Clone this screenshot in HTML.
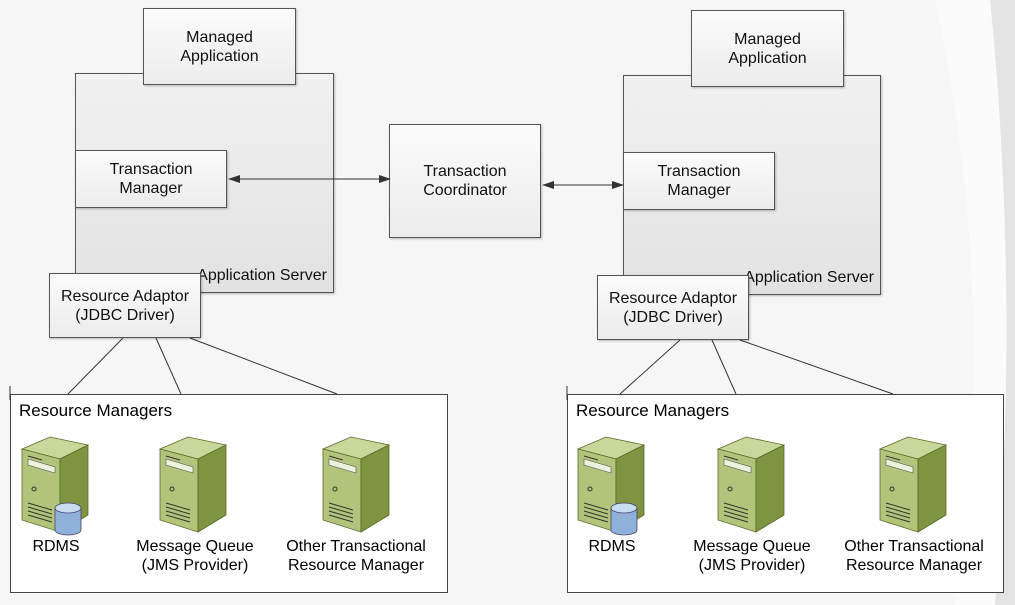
<!DOCTYPE html>
<html><head><style>
body{margin:0;width:1015px;height:605px;overflow:hidden;background:#f6f6f6;font-family:"Liberation Sans",sans-serif;}
.b{position:absolute;border:1px solid #555;box-sizing:border-box;display:flex;align-items:center;justify-content:center;text-align:center;font-size:16px;line-height:19px;color:#111;background:linear-gradient(#fbfbfb,#ececec);box-shadow:1px 1px 2px rgba(0,0,0,.25);}
.as{position:absolute;border:1px solid #555;box-sizing:border-box;background:linear-gradient(#f1f1f1,#e2e2e2);box-shadow:1px 1px 2px rgba(0,0,0,.25);}
.as span{position:absolute;right:6px;bottom:7px;font-size:16px;color:#111;}
.rm{position:absolute;border:1px solid #444;box-sizing:border-box;background:#fff;}
.rm .t{position:absolute;left:8px;top:6px;font-size:17px;}
.lbl{position:absolute;text-align:center;font-size:16px;line-height:19px;width:180px;}
</style></head><body>
<svg width="1015" height="605" style="position:absolute;left:0;top:0">
<path d="M990 0 Q1020 300 995 605 L1015 605 L1015 0Z" fill="#e4e4e4"/>
<path d="M935 0 Q1000 300 955 605 L995 605 Q1020 300 990 0Z" fill="#fbfbfb"/>
</svg>
<div class="as" style="left:75px;top:73px;width:259px;height:220px"><span>Application Server</span></div>
<div class="as" style="left:623px;top:75px;width:258px;height:220px"><span>Application Server</span></div>
<div class="b" style="left:143px;top:8px;width:153px;height:77px">Managed<br>Application</div>
<div class="b" style="left:691px;top:10px;width:153px;height:77px">Managed<br>Application</div>
<div class="b" style="left:75px;top:150px;width:152px;height:58px">Transaction<br>Manager</div>
<div class="b" style="left:623px;top:152px;width:152px;height:58px">Transaction<br>Manager</div>
<div class="b" style="left:389px;top:124px;width:152px;height:114px">Transaction<br>Coordinator</div>
<div class="b" style="left:49px;top:273px;width:152px;height:65px">Resource Adaptor<br>(JDBC Driver)</div>
<div class="b" style="left:597px;top:275px;width:152px;height:65px">Resource Adaptor<br>(JDBC Driver)</div>
<div class="rm" style="left:10px;top:394px;width:438px;height:199px"><div class="t">Resource Managers</div></div>
<div class="rm" style="left:567px;top:394px;width:437px;height:199px"><div class="t">Resource Managers</div></div>
<svg width="1015" height="605" style="position:absolute;left:0;top:0">
<defs>
<g id="srv">
<polygon points="0,12 28,0 66,8 38,22" fill="#c8d79a" stroke="#5a6a2a" stroke-width="0.8"/>
<polygon points="0,12 38,22 38,95 0,83" fill="#b2c47a" stroke="#5a6a2a" stroke-width="0.8"/>
<polygon points="38,22 66,8 66,78 38,95" fill="#7d9440" stroke="#5a6a2a" stroke-width="0.8"/>
<polygon points="6,22 33,30 33,36 6,28" fill="#eef2dc" stroke="#556" stroke-width="0.6"/>
<line x1="6" y1="19" x2="20" y2="23" stroke="#333"/>
<circle cx="12" cy="52" r="2" fill="none" stroke="#333"/>
<path d="M6 66 L30 73 M6 70 L30 77 M6 74 L30 81 M6 78 L30 85" stroke="#333" stroke-width="1"/>
</g>
<g id="db">
<path d="M0 6 L0 28 A13 5 0 0 0 26 28 L26 6" fill="#8fb0d8" stroke="#446" stroke-width="0.8"/>
<ellipse cx="13" cy="6" rx="13" ry="5" fill="#c8dcf0" stroke="#446" stroke-width="0.8"/>
</g>
<marker id="a" markerWidth="12" markerHeight="8" refX="11" refY="4" orient="auto-start-reverse" markerUnits="userSpaceOnUse"><path d="M0 0L12 4L0 8Z" fill="#333"/></marker>
</defs>
<g stroke="#333" stroke-width="1" fill="none">
<line x1="229" y1="179" x2="390" y2="179" marker-start="url(#a)" marker-end="url(#a)"/>
<line x1="543" y1="185" x2="623" y2="185" marker-start="url(#a)" marker-end="url(#a)"/>
<line x1="123" y1="338" x2="68" y2="394"/><line x1="156" y1="338" x2="181" y2="394"/><line x1="190" y1="338" x2="337" y2="394"/>
<line x1="680" y1="340" x2="620" y2="394"/><line x1="712" y1="340" x2="736" y2="394"/><line x1="740" y1="340" x2="893" y2="394"/>
<line x1="10" y1="386" x2="10" y2="400"/><line x1="567" y1="386" x2="567" y2="400"/>
</g>
<use href="#srv" x="22" y="437"/><use href="#db" x="55" y="502"/>
<use href="#srv" x="160" y="437"/>
<use href="#srv" x="323" y="437"/>
<use href="#srv" x="578" y="437"/><use href="#db" x="611" y="502"/>
<use href="#srv" x="718" y="437"/>
<use href="#srv" x="880" y="437"/>
</svg>
<div class="lbl" style="left:-34px;top:537px">RDMS</div>
<div class="lbl" style="left:105px;top:537px">Message Queue<br>(JMS Provider)</div>
<div class="lbl" style="left:266px;top:537px">Other Transactional<br>Resource Manager</div>
<div class="lbl" style="left:522px;top:537px">RDMS</div>
<div class="lbl" style="left:662px;top:537px">Message Queue<br>(JMS Provider)</div>
<div class="lbl" style="left:824px;top:537px">Other Transactional<br>Resource Manager</div>
</body></html>
